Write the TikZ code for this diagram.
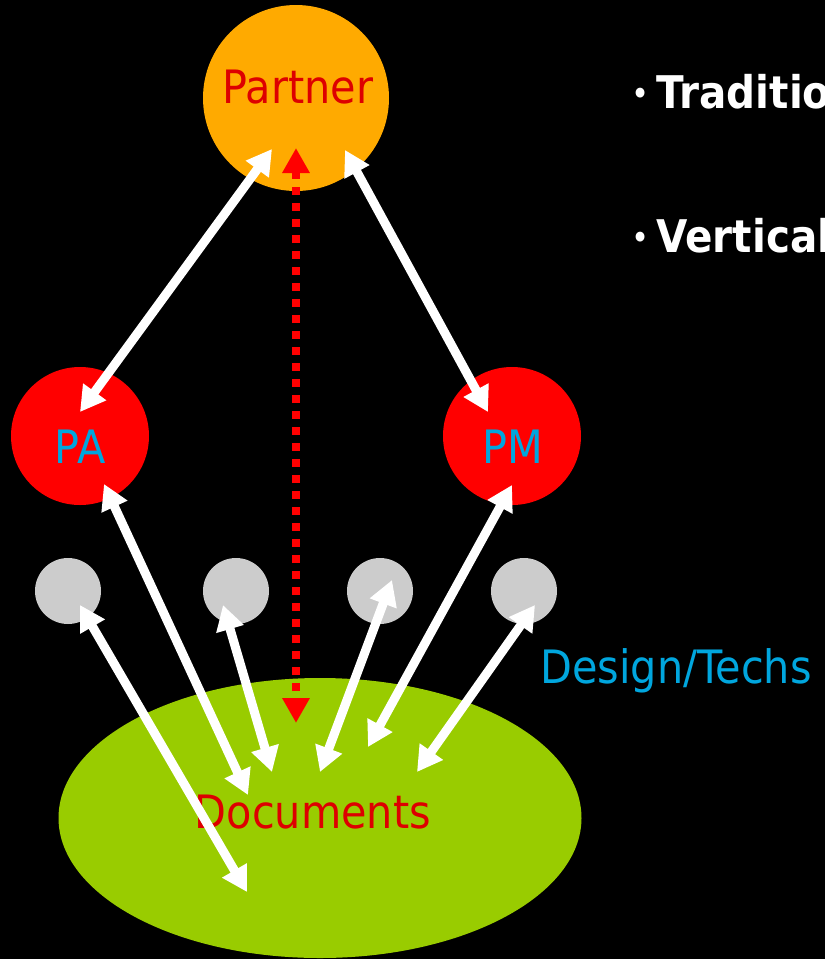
\documentclass[tikz,border=0pt]{standalone}
\usepackage{fontspec}
\setmainfont{DejaVu Sans}[FakeStretch=0.9]
\usetikzlibrary{arrows.meta,shapes.geometric}
\definecolor{partnerorange}{RGB}{255,170,0}
\definecolor{docgreen}{RGB}{153,204,0}
\definecolor{techgrey}{RGB}{204,204,204}
\definecolor{labelred}{RGB}{221,0,0}
\definecolor{labelblue}{RGB}{0,166,222}
\tikzset{
  link/.style={white, line width=9pt, {Triangle[length=25pt,width=27pt]}-{Triangle[length=25pt,width=27pt]}},
  dotlink/.style={red, line width=8pt, dash pattern=on 8pt off 8pt, {Triangle[length=25pt,width=26pt]}-{Triangle[length=25pt,width=26pt]}},
  role/.style={circle, fill=red, minimum size=138pt, inner sep=0pt},
  tech/.style={circle, fill=techgrey, minimum size=66pt, inner sep=0pt},
  big/.style={font=\fontsize{46}{52}\selectfont, anchor=base, inner sep=0pt},
  bullet/.style={anchor=base west, inner sep=0pt, white, font=\fontsize{45}{52}\selectfont\bfseries}
}
\newcommand{\dotmark}{\raisebox{5pt}{\fontsize{28}{28}\selectfont•}\hspace{8pt}}
\begin{document}
\begin{tikzpicture}[x=1pt,y=-1pt]
  \useasboundingbox[fill=black] (0,0) rectangle (825,959);
  \clip (0,0) rectangle (825,959);

  \node[circle, fill=partnerorange, minimum size=186pt, inner sep=0pt] (Partner) at (296,98) {};
  \node[role] (PA) at (80,436) {};
  \node[role] (PM) at (512,436) {};
  \node[tech] (T1) at (68,591) {};
  \node[tech] (T2) at (236,591) {};
  \node[tech] (T3) at (380,591) {};
  \node[tech] (T4) at (524,591) {};
  \node[ellipse, fill=docgreen, minimum width=523pt, minimum height=280pt, inner sep=0pt] (Docs) at (320,818) {};

  \node[big, labelred] (PartnerText) at (298,103) {Partner};
  \node[big, labelblue] (PAText) at (80,463) {PA};
  \node[big, labelblue] (PMText) at (513,463) {PM};
  \node[big, labelred] (DocsText) at (313,828) {Documents};
  \node[big, labelblue] (TechText) at (676,683) {Design/Techs};
  \node[bullet] (Trad) at (632,108) {\dotmark Traditio};
  \node[bullet] (Vert) at (632,252) {\dotmark Vertical};

  % arrow ends
  \coordinate (p1) at (272,149);
  \coordinate (p2) at (345,150);
  \coordinate (p3) at (296,148);
  \coordinate (pa1) at (80,412);
  \coordinate (pa2) at (104,484);
  \coordinate (pm1) at (488,412);
  \coordinate (pm2) at (512,485);
  \coordinate (t1) at (80,605);
  \coordinate (t2) at (223,605);
  \coordinate (t3) at (392,580);
  \coordinate (t4) at (535,605);
  \coordinate (d0) at (296,723);
  \coordinate (d1) at (248,795);
  \coordinate (d2) at (247,892);
  \coordinate (d3) at (272,772);
  \coordinate (d4) at (320,772);
  \coordinate (d5) at (368,747);
  \coordinate (d6) at (417,772);

  \draw[link] (p1) -- (pa1);
  \draw[link] (p2) -- (pm1);
  \draw[dotlink] (p3) -- (d0);
  \draw[link] (pa2) -- (d1);
  \draw[link] (t1) -- (d2);
  \draw[link] (t2) -- (d3);
  \draw[link] (t3) -- (d4);
  \draw[link] (pm2) -- (d5);
  \draw[link] (t4) -- (d6);
\end{tikzpicture}
\end{document}
